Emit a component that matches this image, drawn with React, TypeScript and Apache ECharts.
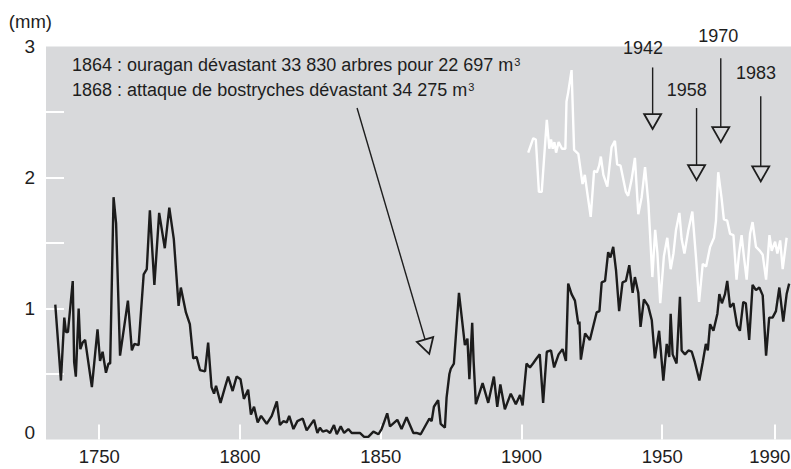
import React, { useEffect, useRef } from "react";
import * as echarts from "echarts";

// Dark series (ring width, mm) — vertices
const darkYears = [
  1734.4, 1736.4, 1737.6, 1738.2, 1738.9, 1740.6, 1741.1, 1741.7, 1742.7, 1743.3, 1744.1, 1745.0, 1747.4, 1749.4,
  1750.3, 1751.2, 1752.4, 1753.3, 1753.9, 1755.1, 1756.0, 1757.4, 1760.2, 1761.6, 1762.5, 1764.0, 1765.8, 1766.9,
  1768.0, 1769.6, 1771.3, 1773.3, 1774.9, 1776.5, 1778.2, 1779.0, 1780.8, 1782.2, 1783.4, 1784.6, 1785.8, 1787.6,
  1788.7, 1789.9, 1790.8, 1791.5, 1793.1, 1794.7, 1795.8, 1797.4, 1798.8, 1800.2, 1801.4, 1802.9, 1803.9, 1805.0,
  1806.3, 1807.5, 1809.5, 1811.3, 1813.1, 1814.2, 1815.4, 1816.6, 1817.5, 1819.0, 1820.4, 1822.3, 1823.7, 1826.3,
  1827.5, 1828.4, 1829.4, 1830.8, 1832.0, 1833.4, 1834.4, 1835.8, 1837.0, 1838.5, 1839.7, 1842.6, 1844.1, 1845.6,
  1847.4, 1849.2, 1850.3, 1851.0, 1852.3, 1853.3, 1855.9, 1857.4, 1859.2, 1861.6, 1862.7, 1864.2, 1867.3, 1868.1,
  1868.9, 1870.4, 1871.3, 1872.8, 1873.4, 1874.4, 1874.9, 1876.0, 1877.8, 1878.8, 1879.9, 1880.8, 1881.5, 1882.5,
  1883.0, 1883.8, 1886.2, 1888.2, 1890.2, 1891.4, 1892.5, 1894.1, 1896.2, 1898.0, 1899.5, 1900.4, 1901.8, 1903.0,
  1904.1, 1905.4, 1906.5, 1907.7, 1909.0, 1910.5, 1911.6, 1913.2, 1914.6, 1915.8, 1916.6, 1917.8, 1919.0, 1920.2,
  1920.6, 1921.1, 1922.6, 1924.3, 1926.7, 1927.7, 1928.5, 1929.7, 1930.8, 1931.6, 1932.6, 1933.6, 1934.7, 1935.9,
  1937.1, 1938.3, 1939.5, 1940.3, 1941.5, 1942.3, 1943.5, 1945.0, 1946.3, 1947.4, 1948.9, 1950.4, 1951.6, 1952.5,
  1953.0, 1953.7, 1955.1, 1956.3, 1956.9, 1958.1, 1959.3, 1960.5, 1961.6, 1963.2, 1964.4, 1965.5, 1966.2, 1967.0,
  1968.2, 1969.6, 1970.3, 1971.2, 1972.3, 1973.1, 1974.1, 1975.3, 1976.6, 1977.6, 1978.8, 1979.7, 1980.9, 1982.1,
  1983.3, 1984.5, 1985.7, 1986.9, 1988.0, 1989.2, 1990.4, 1991.6, 1993.0, 1994.2, 1995.1,
];
const darkValues = [
  1.03, 0.45, 0.93, 0.82, 0.82, 1.21, 0.59, 0.48, 1.0, 0.69, 0.74, 0.76, 0.4, 0.84,
  0.6, 0.67, 0.51, 0.58, 0.58, 1.85, 1.65, 0.64, 1.06, 0.68, 0.73, 0.72, 1.26, 1.3,
  1.75, 1.18, 1.73, 1.46, 1.77, 1.53, 1.02, 1.16, 0.97, 0.88, 0.62, 0.63, 0.53, 0.52,
  0.74, 0.4, 0.35, 0.41, 0.28, 0.4, 0.48, 0.37, 0.48, 0.46, 0.31, 0.38, 0.19, 0.25,
  0.13, 0.18, 0.12, 0.18, 0.29, 0.11, 0.14, 0.13, 0.18, 0.08, 0.14, 0.16, 0.07, 0.15,
  0.05, 0.09, 0.06, 0.07, 0.05, 0.11, 0.04, 0.1, 0.05, 0.08, 0.05, 0.05, 0.02, 0.02,
  0.06, 0.04, 0.08, 0.12, 0.2, 0.1, 0.15, 0.08, 0.17, 0.05, 0.05, 0.04, 0.16, 0.14,
  0.25, 0.3, 0.12, 0.09, 0.32, 0.5, 0.54, 0.58, 1.12, 0.93, 0.72, 0.77, 0.46, 0.89,
  0.6, 0.27, 0.43, 0.28, 0.48, 0.25, 0.42, 0.23, 0.35, 0.27, 0.34, 0.26, 0.58, 0.55,
  0.58, 0.62, 0.65, 0.28, 0.67, 0.68, 0.55, 0.65, 0.69, 0.6, 1.19, 1.11, 1.06, 0.88,
  0.9, 0.61, 0.81, 0.76, 0.97, 0.98, 1.2, 1.21, 1.43, 1.39, 1.47, 1.29, 0.98, 1.2,
  1.21, 1.33, 1.12, 1.24, 1.12, 0.86, 1.07, 1.02, 0.91, 0.62, 0.83, 0.45, 0.73, 0.63,
  0.96, 0.65, 0.58, 1.09, 0.68, 0.65, 0.68, 0.67, 0.59, 0.45, 0.59, 0.73, 0.68, 0.88,
  0.83, 0.96, 1.11, 1.04, 1.11, 1.21, 1.01, 1.04, 0.87, 0.83, 1.05, 1.04, 0.76, 1.18,
  1.14, 1.16, 1.1, 0.64, 0.93, 0.93, 0.98, 1.16, 0.9, 1.11, 1.19,
];

// White series (mm) — vertices
const whiteYears = [
  1902.4, 1904.2, 1905.1, 1906.2, 1907.2, 1909.0, 1909.9, 1910.5, 1911.1, 1911.7, 1912.3, 1913.2, 1914.4, 1915.6,
  1916.0, 1916.6, 1917.8, 1918.7, 1920.2, 1921.7, 1922.5, 1923.4, 1924.6, 1925.8, 1926.8, 1927.6, 1928.2, 1929.1,
  1930.5, 1932.0, 1933.2, 1934.0, 1935.2, 1937.1, 1937.9, 1939.1, 1940.3, 1941.5, 1942.7, 1943.9, 1945.1, 1946.5,
  1947.5, 1948.3, 1949.3, 1950.6, 1951.8, 1953.0, 1954.0, 1954.9, 1956.1, 1956.9, 1957.9, 1959.3, 1960.7, 1962.0,
  1963.1, 1964.4, 1965.6, 1967.0, 1968.4, 1969.1, 1969.9, 1971.1, 1971.9, 1973.1, 1974.1, 1975.3, 1976.4, 1977.3,
  1978.2, 1979.0, 1980.0, 1981.2, 1982.1, 1983.3, 1984.7, 1985.7, 1986.9, 1988.1, 1988.9, 1990.1, 1990.9, 1991.9,
  1992.8, 1994.2,
];
const whiteValues = [
  2.19, 2.3, 2.29, 1.89, 1.89, 2.44, 2.22, 2.29, 2.22, 2.27, 2.19, 2.27, 2.22, 2.22,
  2.58, 2.65, 2.82, 2.21, 2.18, 1.95, 2.02, 1.88, 1.7, 2.05, 2.04, 2.09, 2.16, 2.02,
  1.93, 2.23, 2.28, 2.1, 2.09, 1.89, 1.86, 1.98, 2.15, 1.72, 1.85, 2.08, 1.8, 1.24,
  1.6, 1.42, 1.04, 1.4, 1.54, 1.3, 1.42, 1.6, 1.73, 1.53, 1.42, 1.6, 1.74, 1.39,
  1.05, 1.34, 1.32, 1.47, 1.54, 1.67, 2.04, 1.84, 1.68, 1.67, 1.57, 1.56, 1.22, 1.42,
  1.56, 1.4, 1.22, 1.57, 1.66, 1.47, 1.44, 1.41, 1.22, 1.56, 1.44, 1.51, 1.42, 1.52,
  1.3, 1.54,
];

const xTickLabels = [1750, 1800, 1850, 1900, 1950, 1990];
const yTickLabels = [0, 1, 2, 3];
const yMinorTicks = [0.5, 1, 1.5, 2, 2.5];

// Event arrows: tail (year, mm), tip (year, mm), label (year, mm)
const arrowLabels = ["1942", "1958", "1970", "1983", ""];
const arrowTailX = [1946.6, 1962.2, 1970.8, 1985.0, 1841.6];
const arrowTailY = [2.84, 2.53, 2.91, 2.62, 2.53];
const arrowTipX = [1946.6, 1962.2, 1970.8, 1985.0, 1867.25];
const arrowTipY = [2.37, 1.98, 2.27, 1.97, 0.654];
const arrowLabelX = [1943.2, 1958.7, 1969.9, 1983.3, 1867.25];
const arrowLabelY = [2.985, 2.668, 3.083, 2.796, 0.654];

const noteLines = [
  "1864 : ouragan dévastant 33 830 arbres pour 22 697 m{sup|3}",
  "1868 : attaque de bostryches dévastant 34 275 m{sup|3}",
];

const FONT = "'Liberation Sans', Arial, Helvetica, sans-serif";
const TEXT = "#1e1e1e";
const BG = "#d8d9db";

export default function App() {
  const ref = useRef<HTMLDivElement>(null);
  useEffect(() => {
    if (!ref.current) return;
    document.body.style.margin = "0";
    const chart = echarts.init(ref.current, undefined, { renderer: "svg", width: 791, height: 469 });
    const dark = darkYears.map((y, i) => [y, darkValues[i]]);
    const white = whiteYears.map((y, i) => [y, whiteValues[i]]);
    const arrows = arrowLabels.map((_, i) => [
      arrowTailX[i], arrowTailY[i], arrowTipX[i], arrowTipY[i], arrowLabelX[i], arrowLabelY[i], i,
    ]);
    const lastTick = xTickLabels[xTickLabels.length - 1];
    chart.setOption({
      animation: false,
      title: {
        text: noteLines.join("\n"),
        left: 72,
        top: 52.5,
        padding: 0,
        textStyle: {
          fontFamily: FONT,
          fontSize: 18,
          fontWeight: "normal",
          color: TEXT,
          lineHeight: 25,
          rich: {
            sup: {
              fontFamily: FONT,
              fontSize: 11,
              color: TEXT,
              verticalAlign: "top",
              lineHeight: 25,
              padding: [4, 0, 0, 1],
            },
          },
        },
      },
      grid: {
        left: 46,
        right: 0,
        top: 46.5,
        bottom: 29.5,
        show: true,
        backgroundColor: BG,
        borderWidth: 0,
        containLabel: false,
        outerBoundsMode: "none",
      },
      xAxis: {
        type: "value",
        min: 1731.1,
        max: 1995.75,
        axisLine: { show: false },
        splitLine: { show: false },
        axisTick: {
          show: true,
          inside: true,
          length: 15,
          customValues: xTickLabels,
          lineStyle: { color: "#ffffff", width: 2 },
        },
        axisLabel: {
          customValues: xTickLabels,
          formatter: (v: number) => (v === lastTick ? `{last|${v}}` : String(v)),
          fontFamily: FONT,
          fontSize: 18.5,
          color: TEXT,
          margin: 7,
          rich: {
            last: { fontFamily: FONT, fontSize: 18.5, color: TEXT, padding: [0, 10, 0, 0] },
          },
        },
      },
      yAxis: {
        type: "value",
        min: 0,
        max: 3,
        name: "(mm)",
        nameLocation: "end",
        nameGap: 25,
        nameTextStyle: {
          fontFamily: FONT,
          fontSize: 18.5,
          color: TEXT,
          align: "right",
          verticalAlign: "middle",
          padding: [0, -6, 0, 0],
        },
        axisLine: { show: false },
        splitLine: { show: false },
        axisTick: {
          show: true,
          inside: true,
          length: 18,
          customValues: yMinorTicks,
          lineStyle: { color: "#ffffff", width: 2 },
        },
        axisLabel: {
          customValues: yTickLabels,
          fontFamily: FONT,
          fontSize: 19,
          color: TEXT,
          margin: 11,
          formatter: (v: number) => (v === 0 ? "{zero|0}" : String(v)),
          rich: {
            zero: { fontFamily: FONT, fontSize: 19, color: TEXT, padding: [0, 0, 14, 0] },
          },
        },
      },
      series: [
        {
          type: "line",
          data: white,
          symbol: "none",
          lineStyle: { color: "#ffffff", width: 2.4 },
          z: 2,
        },
        {
          type: "line",
          data: dark,
          symbol: "none",
          lineStyle: { color: "#1c1c1c", width: 2.4 },
          z: 3,
        },
        {
          type: "custom",
          clip: false,
          z: 4,
          data: arrows,
          encode: { x: [0, 2, 4], y: [1, 3, 5] },
          renderItem: (_params: any, api: any) => {
            const p0 = api.coord([api.value(0), api.value(1)]);
            const p1 = api.coord([api.value(2), api.value(3)]);
            const pl = api.coord([api.value(4), api.value(5)]);
            const idx = api.value(6) as number;
            const dx = p1[0] - p0[0];
            const dy = p1[1] - p0[1];
            const len = Math.sqrt(dx * dx + dy * dy) || 1;
            const ux = dx / len;
            const uy = dy / len;
            const h = 15;
            const w = 8.5;
            const bx = p1[0] - ux * h;
            const by = p1[1] - uy * h;
            const nx = -uy;
            const ny = ux;
            const children: any[] = [
              {
                type: "line",
                shape: { x1: p0[0], y1: p0[1], x2: bx, y2: by },
                style: { stroke: "#1e1e1e", lineWidth: 1.4 },
              },
              {
                type: "polygon",
                shape: {
                  points: [
                    [p1[0], p1[1]],
                    [bx + nx * w, by + ny * w],
                    [bx - nx * w, by - ny * w],
                  ],
                },
                style: { fill: BG, stroke: "#1e1e1e", lineWidth: 1.8, lineJoin: "miter" },
              },
            ];
            const label = arrowLabels[idx];
            if (label) {
              children.push({
                type: "text",
                x: pl[0],
                y: pl[1],
                style: {
                  text: label,
                  fontFamily: FONT,
                  fontSize: 18,
                  fill: TEXT,
                  align: "center",
                  verticalAlign: "middle",
                },
              });
            }
            return { type: "group", children };
          },
        },
      ],
    });
    return () => chart.dispose();
  }, []);
  return (
    <div
      ref={ref}
      style={{ width: 791, height: 469, background: "#ffffff", overflow: "hidden" }}
    />
  );
}
